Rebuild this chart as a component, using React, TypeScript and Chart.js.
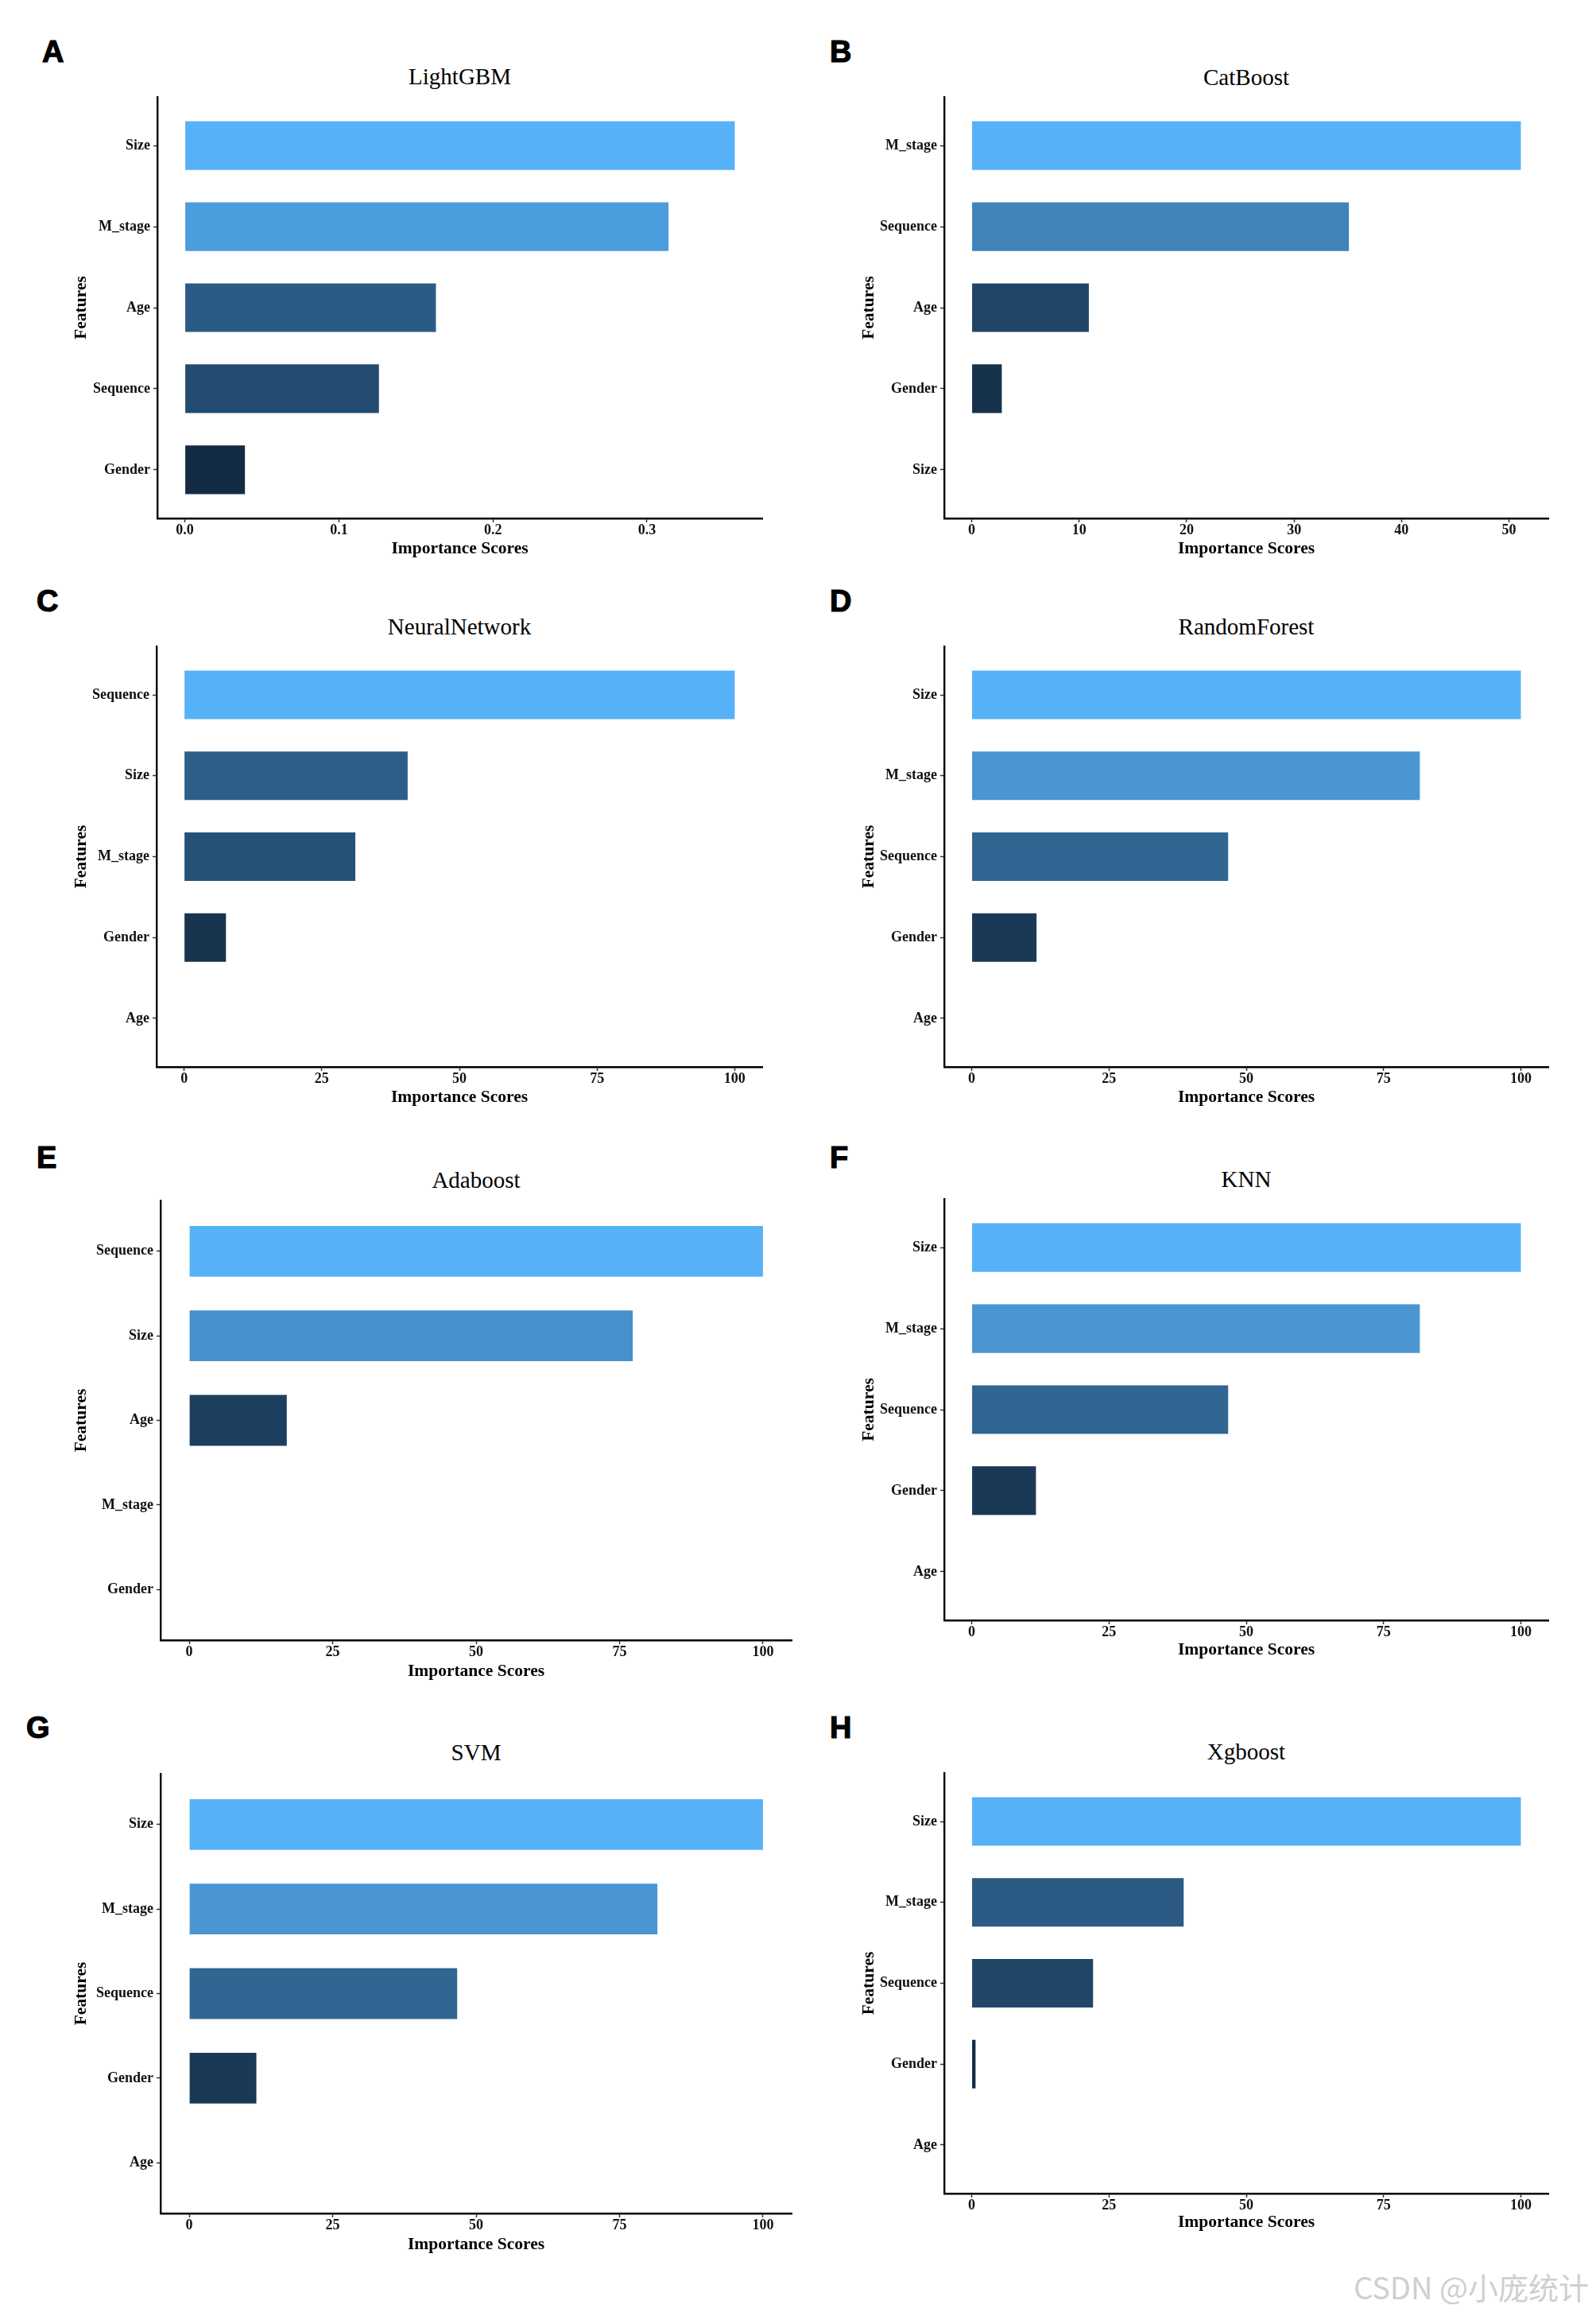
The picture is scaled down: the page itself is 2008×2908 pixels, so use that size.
import React, { useEffect, useRef } from "react";
import { Chart, registerables } from "chart.js";

Chart.register(...registerables);

// ---------------- data ----------------
const PANEL_LETTERS = ["A", "B", "C", "D", "E", "F", "G", "H"];
const MODEL_NAMES = ["LightGBM", "CatBoost", "NeuralNetwork", "RandomForest", "Adaboost", "KNN", "SVM", "Xgboost"];

const FEATURES_LGB = ["Size", "M_stage", "Age", "Sequence", "Gender"];
const SCORES_LGB = [0.357, 0.314, 0.163, 0.126, 0.039];

const FEATURES_CAT = ["M_stage", "Sequence", "Age", "Gender", "Size"];
const SCORES_CAT = [51.1, 35.1, 10.9, 2.8, 0];

const FEATURES_NN = ["Sequence", "Size", "M_stage", "Gender", "Age"];
const SCORES_NN = [100, 40.6, 31.1, 7.6, 0];

const FEATURES_RF = ["Size", "M_stage", "Sequence", "Gender", "Age"];
const SCORES_RF = [100, 81.6, 46.7, 11.8, 0];

const FEATURES_ADA = ["Sequence", "Size", "Age", "M_stage", "Gender"];
const SCORES_ADA = [100, 77.3, 17.0, 0, 0];

const FEATURES_KNN = ["Size", "M_stage", "Sequence", "Gender", "Age"];
const SCORES_KNN = [100, 81.6, 46.7, 11.7, 0];

const FEATURES_SVM = ["Size", "M_stage", "Sequence", "Gender", "Age"];
const SCORES_SVM = [100, 81.6, 46.7, 11.7, 0];

const FEATURES_XGB = ["Size", "M_stage", "Sequence", "Gender", "Age"];
const SCORES_XGB = [100, 38.6, 22.1, 0.7, 0];

const TICKS_LGB = [0, 0.1, 0.2, 0.3];
const TICK_LABELS_LGB = ["0.0", "0.1", "0.2", "0.3"];
const TICKS_CAT = [0, 10, 20, 30, 40, 50];
const TICK_LABELS_CAT = ["0", "10", "20", "30", "40", "50"];
const TICKS_100 = [0, 25, 50, 75, 100];
const TICK_LABELS_100 = ["0", "25", "50", "75", "100"];

const X_TITLE = "Importance Scores";
const Y_TITLE = "Features";
const WATERMARK = "CSDN @小庞统计";

const PANEL_FEATURES = [FEATURES_LGB, FEATURES_CAT, FEATURES_NN, FEATURES_RF, FEATURES_ADA, FEATURES_KNN, FEATURES_SVM, FEATURES_XGB];
const PANEL_SCORES = [SCORES_LGB, SCORES_CAT, SCORES_NN, SCORES_RF, SCORES_ADA, SCORES_KNN, SCORES_SVM, SCORES_XGB];
const PANEL_TICKS = [TICKS_LGB, TICKS_CAT, TICKS_100, TICKS_100, TICKS_100, TICKS_100, TICKS_100, TICKS_100];
const PANEL_TICK_LABELS = [TICK_LABELS_LGB, TICK_LABELS_CAT, TICK_LABELS_100, TICK_LABELS_100, TICK_LABELS_100, TICK_LABELS_100, TICK_LABELS_100, TICK_LABELS_100];

// ---------------- layout / style ----------------
const GEOMS = [
  { plotL: 198, plotT: 122, plotR: 959, plotB: 652, featCx: 103, xTitleCy: 690, titleBase: 106, letterX: 55, letterBase: 78 },
  { plotL: 1188, plotT: 122, plotR: 1948, plotB: 652, featCx: 1094, xTitleCy: 690, titleBase: 107, letterX: 1046, letterBase: 78 },
  { plotL: 197, plotT: 813, plotR: 959, plotB: 1342, featCx: 103, xTitleCy: 1380, titleBase: 798, letterX: 48, letterBase: 769 },
  { plotL: 1188, plotT: 813, plotR: 1948, plotB: 1342, featCx: 1094, xTitleCy: 1380, titleBase: 798, letterX: 1046, letterBase: 769 },
  { plotL: 202, plotT: 1510, plotR: 996, plotB: 2063, featCx: 103, xTitleCy: 2102, titleBase: 1494, letterX: 48, letterBase: 1469 },
  { plotL: 1188, plotT: 1508, plotR: 1948, plotB: 2038, featCx: 1094, xTitleCy: 2075, titleBase: 1493, letterX: 1046, letterBase: 1469 },
  { plotL: 202, plotT: 2231, plotR: 996, plotB: 2784, featCx: 103, xTitleCy: 2823, titleBase: 2214, letterX: 35, letterBase: 2186 },
  { plotL: 1188, plotT: 2230, plotR: 1948, plotB: 2759, featCx: 1094, xTitleCy: 2795, titleBase: 2213, letterX: 1046, letterBase: 2186 },
];

const SERIF = '"Liberation Serif", "Times New Roman", Times, serif';
const SANS = '"Liberation Sans", Arial, Helvetica, sans-serif';
const TICK_SIZE = 18;
const AXIS_TITLE_SIZE = 21.5;
const TITLE_SIZE = 29;
const LETTER_SIZE = 38;
const PAD_T = 4;
const PAD_R = 6;
const LOW_COLOR = "#132B43";
const HIGH_COLOR = "#56B1F7";

// ---------------- Lab colour gradient (ggplot2 default continuous fill) ----------------
function hexToRgb(h: string): number[] {
  const s = h.replace("#", "");
  return [0, 2, 4].map((i) => parseInt(s.slice(i, i + 2), 16));
}
function toLinear(c: number) {
  c /= 255;
  return c <= 0.04045 ? c / 12.92 : Math.pow((c + 0.055) / 1.055, 2.4);
}
function fromLinear(c: number) {
  const v = c <= 0.0031308 ? 12.92 * c : 1.055 * Math.pow(c, 1 / 2.4) - 0.055;
  return Math.max(0, Math.min(255, Math.round(v * 255)));
}
const WX = 0.95047, WY = 1.0, WZ = 1.08883;
function fLab(t: number) {
  return t > 0.008856 ? Math.cbrt(t) : 7.787 * t + 16 / 116;
}
function fInv(f: number) {
  const f3 = f * f * f;
  return f3 > 0.008856 ? f3 : (f - 16 / 116) / 7.787;
}
function rgbToLab(rgb: number[]) {
  const [r, g, b] = rgb.map(toLinear);
  const X = (0.4124564 * r + 0.3575761 * g + 0.1804375 * b) / WX;
  const Y = (0.2126729 * r + 0.7151522 * g + 0.072175 * b) / WY;
  const Z = (0.0193339 * r + 0.119192 * g + 0.9503041 * b) / WZ;
  const fx = fLab(X), fy = fLab(Y), fz = fLab(Z);
  return [116 * fy - 16, 500 * (fx - fy), 200 * (fy - fz)];
}
function labToHex(lab: number[]) {
  const [L, a, b] = lab;
  const fy = (L + 16) / 116;
  const fx = fy + a / 500;
  const fz = fy - b / 200;
  const X = fInv(fx) * WX, Y = fInv(fy) * WY, Z = fInv(fz) * WZ;
  const r = 3.2404542 * X - 1.5371385 * Y - 0.4985314 * Z;
  const g = -0.969266 * X + 1.8760108 * Y + 0.041556 * Z;
  const bb = 0.0556434 * X - 0.2040259 * Y + 1.0572252 * Z;
  return "#" + [r, g, bb].map((c) => fromLinear(c).toString(16).padStart(2, "0")).join("");
}
const LAB_LOW = rgbToLab(hexToRgb(LOW_COLOR));
const LAB_HIGH = rgbToLab(hexToRgb(HIGH_COLOR));
function gradientColors(values: number[]) {
  const lo = Math.min(...values), hi = Math.max(...values);
  return values.map((v) => {
    const t = hi > lo ? (v - lo) / (hi - lo) : 1;
    return labToHex(LAB_LOW.map((l, i) => l + (LAB_HIGH[i] - l) * t));
  });
}

// ---------------- panel ----------------
type Geom = (typeof GEOMS)[number];

function BarPanel(props: { features: string[]; scores: number[]; ticks: number[]; tickLabels: string[]; geom: Geom }) {
  const { features, scores, ticks, tickLabels, geom: g } = props;
  const ref = useRef<HTMLCanvasElement>(null);
  const lh = AXIS_TITLE_SIZE * 1.2;
  const cl = Math.round(g.featCx - lh / 2);
  const ct = g.plotT - PAD_T;
  const cr = g.plotR + PAD_R;
  const cb = Math.round(g.xTitleCy + lh / 2);
  const yW = g.plotL - cl;
  const xH = cb - g.plotB;
  const W = cr - cl;
  const H = cb - ct;

  useEffect(() => {
    if (!ref.current) return;
    const maxV = Math.max(...scores);
    const tickFont = { family: SERIF, size: TICK_SIZE, weight: "bold" as const };
    const titleFont = { family: SERIF, size: AXIS_TITLE_SIZE, weight: "bold" as const };
    const chart = new Chart(ref.current, {
      type: "bar",
      data: {
        datasets: [
          {
            data: scores.map((v, i) => ({ x: v, y: i })),
            backgroundColor: gradientColors(scores),
            borderWidth: 0,
            barPercentage: 0.6,
            categoryPercentage: 1,
          },
        ],
      },
      options: {
        indexAxis: "y",
        responsive: false,
        animation: false,
        layout: { padding: { top: PAD_T, right: PAD_R, left: 0, bottom: 0 } },
        plugins: {
          legend: { display: false },
          tooltip: { enabled: false },
          title: { display: false },
        },
        scales: {
          x: {
            type: "linear",
            min: -0.05 * maxV,
            max: 1.05 * maxV,
            offset: false,
            afterBuildTicks: (s: any) => {
              s.ticks = ticks.map((v) => ({ value: v }));
            },
            afterFit: (s: any) => {
              s.height = xH;
              s.paddingLeft = 0;
              s.paddingRight = 0;
            },
            ticks: {
              callback: (_v: any, i: number) => tickLabels[i],
              font: tickFont,
              color: "#111",
              padding: 0,
              maxRotation: 0,
              autoSkip: false,
            },
            grid: {
              display: true,
              offset: false,
              drawOnChartArea: false,
              drawTicks: true,
              tickLength: 5,
              tickWidth: 1.5,
              tickColor: "#333",
            },
            border: { display: true, color: "#000", width: 2.4 },
            title: { display: true, text: X_TITLE, font: titleFont, color: "#000", padding: 0 },
          },
          y: {
            type: "linear",
            min: -0.6,
            max: 4.6,
            reverse: true,
            offset: false,
            afterBuildTicks: (s: any) => {
              s.ticks = features.map((_f, i) => ({ value: i }));
            },
            afterFit: (s: any) => {
              s.width = yW;
              s.paddingTop = 0;
              s.paddingBottom = 0;
            },
            ticks: {
              callback: (v: any) => features[Math.round(Number(v))],
              font: tickFont,
              color: "#111",
              padding: 4,
              autoSkip: false,
            },
            grid: {
              display: true,
              offset: false,
              drawOnChartArea: false,
              drawTicks: true,
              tickLength: 5,
              tickWidth: 1.5,
              tickColor: "#333",
            },
            border: { display: true, color: "#000", width: 2.4 },
            title: { display: true, text: Y_TITLE, font: titleFont, color: "#000", padding: 0 },
          },
        },
      } as any,
    });
    return () => chart.destroy();
  }, []);

  return (
    <canvas
      ref={ref}
      width={W}
      height={H}
      style={{ position: "absolute", left: cl, top: ct, width: W, height: H }}
    />
  );
}

// ---------------- app ----------------
export default function App() {
  return (
    <div style={{ position: "absolute", left: 0, top: 0, width: 2008, height: 2908, background: "#fff", overflow: "hidden" }}>
      {GEOMS.map((g, i) => {
        const titleTop = g.titleBase - 24.3;
        const letterTop = g.letterBase - 32.2;
        return (
          <React.Fragment key={i}>
            <div
              style={{
                position: "absolute",
                left: g.letterX - 2,
                top: letterTop,
                fontFamily: SANS,
                fontWeight: 900,
                fontSize: LETTER_SIZE,
                lineHeight: `${LETTER_SIZE}px`,
                color: "#000",
                WebkitTextStroke: "1.2px #000",
                whiteSpace: "nowrap",
              }}
            >
              {PANEL_LETTERS[i]}
            </div>
            <div
              style={{
                position: "absolute",
                left: g.plotL,
                width: g.plotR - g.plotL,
                top: titleTop,
                textAlign: "center",
                fontFamily: SERIF,
                fontSize: TITLE_SIZE,
                lineHeight: `${TITLE_SIZE}px`,
                color: "#000",
                whiteSpace: "nowrap",
              }}
            >
              {MODEL_NAMES[i]}
            </div>
            <BarPanel
              features={PANEL_FEATURES[i]}
              scores={PANEL_SCORES[i]}
              ticks={PANEL_TICKS[i]}
              tickLabels={PANEL_TICK_LABELS[i]}
              geom={g}
            />
          </React.Fragment>
        );
      })}
      <div
        style={{
          position: "absolute",
          left: 1703,
          top: 2857,
          fontFamily: '"Noto Sans CJK SC", "Noto Sans", sans-serif',
          fontSize: 38,
          lineHeight: "38px",
          color: "#cfcfcf",
          whiteSpace: "nowrap",
        }}
      >
        {WATERMARK}
      </div>
    </div>
  );
}
